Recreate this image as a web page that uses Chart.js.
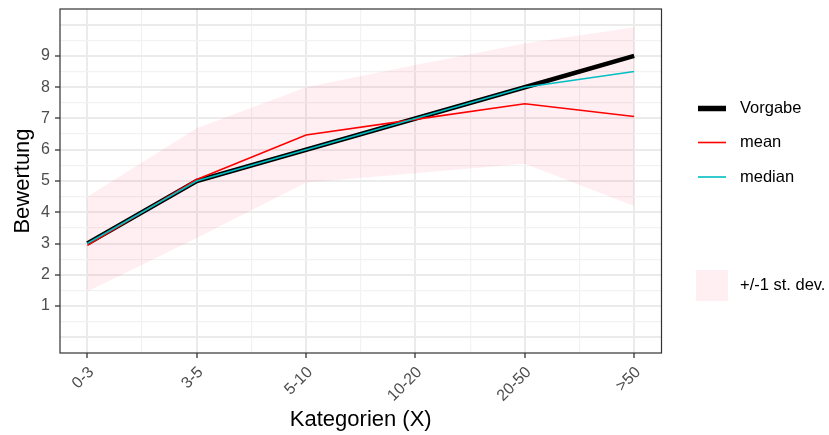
<!DOCTYPE html>
<html>
<head>
<meta charset="utf-8">
<script src="https://cdn.jsdelivr.net/npm/chart.js@4"></script>
<style>
  html, body { margin: 0; padding: 0; background: #ffffff; }
  #wrap { width: 829px; height: 435px; }
</style>
</head>
<body>
<div id="wrap"><canvas id="c" width="829" height="435"></canvas></div>
<script>
// Categories on the x axis
const categories = ['0-3', '3-5', '5-10', '10-20', '20-50', '>50'];
// Target values (Vorgabe)
const vorgabe = [3, 5, 6, 7, 8, 9];
// Observed mean and median per category
const meanVals = [2.94, 5.05, 6.47, 6.97, 7.47, 7.06];
const medianVals = [3, 5, 6, 7, 8, 8.5];
// +/- 1 standard deviation band around the mean
const sdUpper = [4.50, 6.69, 8.00, 8.71, 9.40, 9.92];
const sdLower = [1.47, 3.18, 4.95, 5.25, 5.55, 4.20];
// Labelled y ticks
const yTickLabels = [1, 2, 3, 4, 5, 6, 7, 8, 9];

const FONT = "'Liberation Sans', Arial, Helvetica, sans-serif";
const BAND = 'rgba(255, 30, 70, 0.07)';
const TEAL = '#00BFC4';
const RED = '#FF0000';

const pts = arr => arr.map((v, i) => ({ x: i, y: v }));

const isInt = v => Math.abs(v - Math.round(v)) < 1e-6;

// Legend drawn at the right side of the canvas
const legendPlugin = {
  id: 'sideLegend',
  afterDraw(chart) {
    const ctx = chart.ctx;
    ctx.save();
    const x0 = 698, x1 = 726, tx = 740;
    const items = [
      { label: 'Vorgabe', color: '#000000', width: 5.5, y: 108.5 },
      { label: 'mean', color: RED, width: 1.6, y: 142.5 },
      { label: 'median', color: TEAL, width: 1.6, y: 177 }
    ];
    ctx.font = '16.5px ' + FONT;
    ctx.textBaseline = 'middle';
    ctx.textAlign = 'left';
    items.forEach(it => {
      ctx.beginPath();
      ctx.strokeStyle = it.color;
      ctx.lineWidth = it.width;
      ctx.lineCap = 'butt';
      ctx.moveTo(x0, it.y);
      ctx.lineTo(x1, it.y);
      ctx.stroke();
      ctx.fillStyle = '#000000';
      ctx.fillText(it.label, tx, it.y);
    });
    ctx.fillStyle = BAND;
    ctx.fillRect(696, 270, 32, 31);
    ctx.fillStyle = '#000000';
    ctx.fillText('+/-1 st. dev.', tx, 285.5);
    ctx.restore();
  }
};

// Panel border around the plotting area
const borderPlugin = {
  id: 'panelBorder',
  afterDatasetsDraw(chart) {
    const { ctx, chartArea: a } = chart;
    ctx.save();
    ctx.strokeStyle = '#333333';
    ctx.lineWidth = 1.2;
    ctx.strokeRect(a.left, a.top, a.right - a.left, a.bottom - a.top);
    ctx.restore();
  }
};

new Chart(document.getElementById('c'), {
  type: 'line',
  data: {
    datasets: [
      {
        label: 'median',
        data: pts(medianVals),
        borderColor: TEAL,
        borderWidth: 1.6,
        pointRadius: 0,
        fill: false,
        tension: 0
      },
      {
        label: 'mean',
        data: pts(meanVals),
        borderColor: RED,
        borderWidth: 1.6,
        pointRadius: 0,
        fill: false,
        tension: 0
      },
      {
        label: 'Vorgabe',
        data: pts(vorgabe),
        borderColor: '#000000',
        borderWidth: 4.6,
        borderJoinStyle: 'round',
        pointRadius: 0,
        fill: false,
        tension: 0
      },
      {
        label: 'sd upper',
        data: pts(sdUpper),
        borderColor: 'rgba(0,0,0,0)',
        borderWidth: 0,
        pointRadius: 0,
        backgroundColor: BAND,
        fill: '+1',
        tension: 0
      },
      {
        label: 'sd lower',
        data: pts(sdLower),
        borderColor: 'rgba(0,0,0,0)',
        borderWidth: 0,
        pointRadius: 0,
        fill: false,
        tension: 0
      }
    ]
  },
  options: {
    responsive: false,
    animation: false,
    devicePixelRatio: 1,
    layout: { padding: { top: 9, right: 167.5, left: 0, bottom: 0 } },
    plugins: {
      legend: { display: false },
      tooltip: { enabled: false },
      filler: { propagate: false }
    },
    scales: {
      x: {
        type: 'linear',
        min: -0.25,
        max: 5.25,
        afterFit(scale) {
          scale.height = 82;
          scale.paddingLeft = 0;
          scale.paddingRight = 0;
        },
        afterBuildTicks(scale) {
          const t = [{ value: -0.25 }];
          for (let k = 0; k <= 10; k++) t.push({ value: k / 2 });
          t.push({ value: 5.25 });
          scale.ticks = t;
        },
        ticks: {
          autoSkip: false,
          maxRotation: 45,
          minRotation: 45,
          padding: 5,
          labelOffset: 4,
          color: '#4d4d4d',
          font: { family: FONT, size: 16 },
          callback: v => (isInt(v) && v >= 0 && v < categories.length) ? categories[Math.round(v)] : ''
        },
        grid: {
          color: ctx => {
            const v = ctx.tick ? ctx.tick.value : 0;
            if (v <= -0.25 + 1e-6 || v >= 5.25 - 1e-6) return 'rgba(0,0,0,0)';
            return isInt(v) ? '#ebebeb' : '#f2f2f2';
          },
          lineWidth: ctx => (ctx.tick && isInt(ctx.tick.value)) ? 2 : 1.2,
          drawTicks: true,
          tickLength: 5,
          tickColor: ctx => (ctx.tick && isInt(ctx.tick.value)) ? '#333333' : 'rgba(0,0,0,0)',
          tickWidth: 1.3
        },
        border: { display: false },
        title: {
          display: true,
          text: 'Kategorien (X)',
          color: '#000000',
          font: { family: FONT, size: 22 },
          padding: { top: 0, bottom: 2 }
        }
      },
      y: {
        type: 'linear',
        min: -0.5,
        max: 10.5,
        afterFit(scale) {
          scale.width = 60;
          scale.paddingTop = 0;
          scale.paddingBottom = 0;
        },
        ticks: {
          stepSize: 0.5,
          autoSkip: false,
          padding: 5,
          color: '#4d4d4d',
          font: { family: FONT, size: 16 },
          callback: v => (isInt(v) && yTickLabels.includes(Math.round(v))) ? String(Math.round(v)) : ''
        },
        grid: {
          color: ctx => {
            const v = ctx.tick ? ctx.tick.value : 0;
            if (v <= -0.5 + 1e-6 || v >= 10.5 - 1e-6) return 'rgba(0,0,0,0)';
            return isInt(v) ? '#ebebeb' : '#f2f2f2';
          },
          lineWidth: ctx => (ctx.tick && isInt(ctx.tick.value)) ? 2 : 1.2,
          drawTicks: true,
          tickLength: 5,
          tickColor: ctx => (ctx.tick && yTickLabels.includes(Math.round(ctx.tick.value)) && isInt(ctx.tick.value)) ? '#333333' : 'rgba(0,0,0,0)',
          tickWidth: 1.3
        },
        border: { display: false },
        title: {
          display: true,
          text: 'Bewertung',
          color: '#000000',
          font: { family: FONT, size: 22 },
          padding: { top: 10, bottom: 0 }
        }
      }
    }
  },
  plugins: [legendPlugin, borderPlugin]
});
</script>
</body>
</html>
